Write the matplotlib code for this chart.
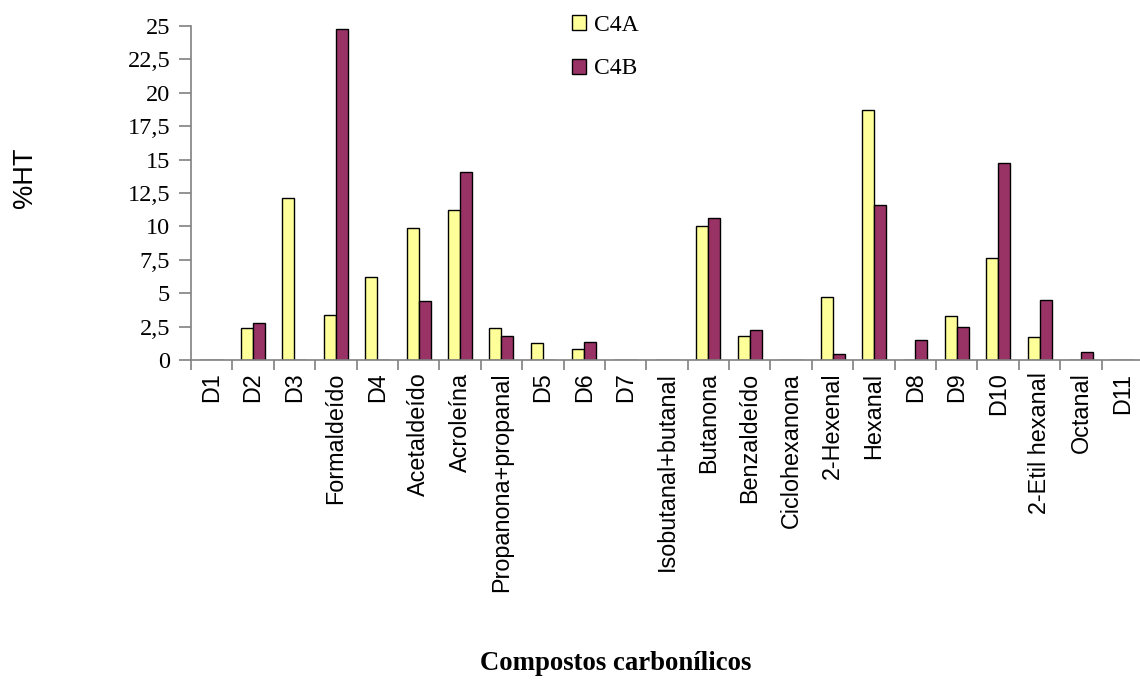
import numpy as np
import matplotlib
matplotlib.use('Agg')
import matplotlib.pyplot as plt

# ------------------------------------------------------------
# DATA
# ------------------------------------------------------------
categories = ['D1', 'D2', 'D3', 'Formaldeído', 'D4', 'Acetaldeído', 'Acroleína',
              'Propanona+propanal', 'D5', 'D6', 'D7', 'Isobutanal+butanal',
              'Butanona', 'Benzaldeído', 'Ciclohexanona', '2-Hexenal', 'Hexanal',
              'D8', 'D9', 'D10', '2-Etil hexanal', 'Octanal', 'D11']
c4a = [0, 2.4, 12.15, 3.4, 6.2, 9.9, 11.25, 2.4, 1.25, 0.8, 0, 0,
       10.0, 1.8, 0, 4.75, 18.7, 0, 3.3, 7.65, 1.7, 0, 0]
c4b = [0, 2.75, 0, 24.75, 0, 4.4, 14.05, 1.8, 0, 1.35, 0, 0,
       10.6, 2.25, 0, 0.45, 11.6, 1.5, 2.5, 14.75, 4.5, 0.6, 0]
yticks = [0, 2.5, 5, 7.5, 10, 12.5, 15, 17.5, 20, 22.5, 25]
ytick_labels = ['0', '2,5', '5', '7,5', '10', '12,5', '15', '17,5', '20', '22,5', '25']

# ------------------------------------------------------------
# PLOT
# ------------------------------------------------------------
W, H = 1140, 685
fig = plt.figure(figsize=(W/100, H/100), dpi=100)
ax = fig.add_axes([191/W, (H-360)/H, 952/W, 334/H])

x = np.arange(len(categories))
bw = 0.29
ax.bar(x - bw/2, c4a, bw, color='#FFFF99', edgecolor='black', linewidth=1.0, label='C4A')
ax.bar(x + bw/2, c4b, bw, color='#993366', edgecolor='black', linewidth=1.0, label='C4B')

ax.set_xlim(-0.5, len(categories) - 0.5)
ax.set_ylim(0, 25)

for s in ['top', 'right']:
    ax.spines[s].set_visible(False)
for s in ['left', 'bottom']:
    ax.spines[s].set_color('#808080')
    ax.spines[s].set_linewidth(1.2)

ax.set_yticks(yticks)
ax.set_yticklabels(ytick_labels, fontfamily='Liberation Serif', fontsize=17.5)
ax.tick_params(axis='y', length=9, color='#808080', width=1.2, pad=6)

ax.set_xticks(x)
ax.set_xticklabels(categories, rotation=90, fontfamily='Liberation Sans', fontsize=16.8)
ax.set_xticks(np.arange(len(categories) + 1) - 0.5, minor=True)
ax.tick_params(axis='x', which='major', length=0, pad=9)
ax.tick_params(axis='x', which='minor', length=7, color='#808080', width=1.2)

fig.text(25/W, 1 - 178/H, '%HT', rotation=90, ha='center', va='center',
         fontfamily='Liberation Sans', fontsize=19.5)
fig.text(616/W, 1 - 663/H, 'Compostos carbonílicos', ha='center', va='center',
         fontfamily='Liberation Serif', fontweight='bold', fontsize=19.3)

leg = ax.legend(loc='upper left', bbox_to_anchor=(572/W, 1 - 15/H), bbox_transform=fig.transFigure,
                frameon=False, prop={'family': 'Liberation Serif', 'size': 17},
                borderpad=0, borderaxespad=0,
                handlelength=0.6, handleheight=0.6, handletextpad=0.35, labelspacing=0.95)

fig.savefig('out.png', dpi=100)
